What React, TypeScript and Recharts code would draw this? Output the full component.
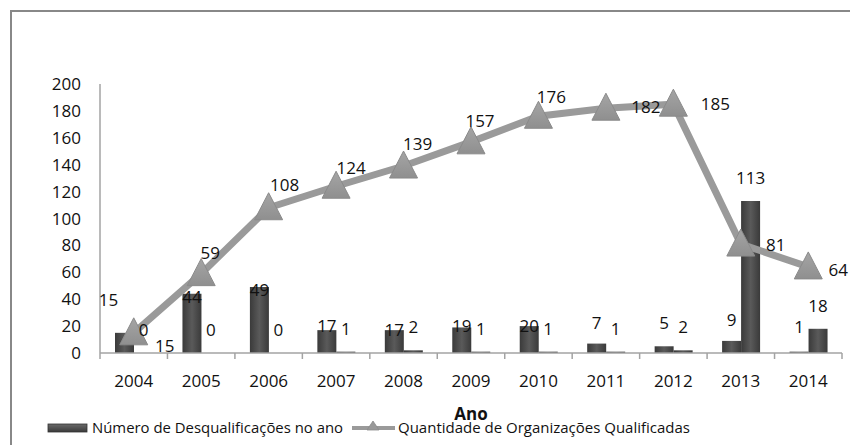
import {
  ComposedChart,
  Bar,
  Line,
  XAxis,
  YAxis,
  Legend,
  LabelList,
} from "recharts";

const anos = ["2004", "2005", "2006", "2007", "2008", "2009", "2010", "2011", "2012", "2013", "2014"];
const desqualificacoes = [15, 44, 49, 17, 17, 19, 20, 7, 5, 9, 1];
const desqualificacoesSerie2 = [0, 0, 0, 1, 2, 1, 1, 1, 2, 113, 18];
const qualificadas = [15, 59, 108, 124, 139, 157, 176, 182, 185, 81, 64];
const yTicks = [0, 20, 40, 60, 80, 100, 120, 140, 160, 180, 200];

// label nudges (Excel placed them by hand)
const barLabelNudge = [[-16, -26], [0, 0], [0, 0], [0, 0], [0, 4], [0, 0], [0, 0], [0, -3], [0, -3], [0, -6], [0, 1]];
const lineLabelOffset = [[31, 13], [9, -21], [16, -23], [15, -18], [14, -22], [9, -21], [13, -19], [40, -1], [42, 0], [35, 1], [30, 3]];

const data = anos.map((ano, i) => ({
  ano,
  desq: desqualificacoes[i],
  desq2: desqualificacoesSerie2[i],
  qual: qualificadas[i],
}));

const FONT = "'Open Sans', sans-serif";
const AXIS = "#a3a3a3";

const XTick = (props: any) => {
  const { x, y, payload, index } = props;
  const half = payload.offset ?? 0;
  const axisY = y - 6;
  return (
    <g>
      <line x1={x - half} x2={x - half} y1={axisY} y2={axisY + 6} stroke={AXIS} strokeWidth={1.5} />
      {index === anos.length - 1 && (
        <line x1={x + half} x2={x + half} y1={axisY} y2={axisY + 6} stroke={AXIS} strokeWidth={1.5} />
      )}
      <text x={x} y={axisY + 34} textAnchor="middle" fill="#111" fontSize={17} fontFamily={FONT}>
        {payload.value}
      </text>
    </g>
  );
};

const BarALabel = (p: any) => {
  const { x, y, width, height, value, index } = p;
  const bottom = y + height;
  const ty = Math.min(y + 3, bottom - 27);
  const [dx, dy] = barLabelNudge[index] || [0, 0];
  return (
    <text x={x + width / 2 + dx} y={ty + dy} dy="0.35em" textAnchor="middle" fill="#111" fontSize={17} fontFamily={FONT}>
      {value}
    </text>
  );
};

const BarBLabel = (p: any) => {
  const { x, y, width, value } = p;
  return (
    <text x={x + width / 2} y={y - 23} dy="0.35em" textAnchor="middle" fill="#111" fontSize={17} fontFamily={FONT}>
      {value}
    </text>
  );
};

const LineLabel = (p: any) => {
  const { x, y, value, index } = p;
  const [dx, dy] = lineLabelOffset[index] || [0, -20];
  return (
    <text x={x + dx} y={y + dy} dy="0.35em" textAnchor="middle" fill="#111" fontSize={17} fontFamily={FONT}>
      {value}
    </text>
  );
};

const Triangle = (p: any) => {
  const { cx, cy } = p;
  if (cx == null || cy == null) return null;
  return (
    <polygon
      points={`${cx},${cy - 15} ${cx - 14},${cy + 12} ${cx + 14},${cy + 12}`}
      fill="url(#triFill)"
      stroke="#8a8a8a"
      strokeWidth={1}
    />
  );
};

const LegendBox = () => (
  <svg width={700} height={22} style={{ display: "block", overflow: "visible" }}>
    <defs>
      <linearGradient id="legBar" x1="0" y1="0" x2="0" y2="1">
        <stop offset="0%" stopColor="#6a6a6a" />
        <stop offset="100%" stopColor="#3a3a3a" />
      </linearGradient>
    </defs>
    <rect x={0} y={7} width={39} height={8} fill="url(#legBar)" stroke="#333" strokeWidth={0.8} />
    <text x={44} y={16} fontFamily={FONT} fontSize={14.5} fill="#111" textLength={251} lengthAdjust="spacingAndGlyphs">
      Número de Desqualificações no ano
    </text>
    <line x1={304} x2={347} y1={11} y2={11} stroke="#9a9a9a" strokeWidth={4} />
    <polygon points="325,4 319,13 331,13" fill="#999" stroke="#8a8a8a" strokeWidth={0.8} />
    <text x={350} y={16} fontFamily={FONT} fontSize={14.5} fill="#111" textLength={292} lengthAdjust="spacingAndGlyphs">
      Quantidade de Organizações Qualificadas
    </text>
  </svg>
);

export default function App() {
  return (
    <div style={{ position: "fixed", left: 0, top: 0, width: 850, height: 445, overflow: "hidden", background: "#fff" }}>
      <style>{`body{margin:0;overflow:hidden}`}</style>
      <div
        style={{
          position: "absolute",
          left: 10,
          top: 10,
          width: 900,
          height: 500,
          borderTop: "2px solid #888",
          borderLeft: "2px solid #888",
        }}
      />
      <div style={{ position: "absolute", left: 0, top: 0 }}>
        <ComposedChart
          width={850}
          height={445}
          data={data}
          margin={{ top: 84, right: 8, bottom: 27, left: 12 }}
          barSize={19}
          barGap={0}
        >
          <defs>
            <linearGradient id="barFill" x1="0" y1="0" x2="1" y2="0">
              <stop offset="0%" stopColor="#3a3a3a" />
              <stop offset="50%" stopColor="#5a5a5a" />
              <stop offset="100%" stopColor="#3a3a3a" />
            </linearGradient>
            <linearGradient id="triFill" x1="0" y1="0" x2="0" y2="1">
              <stop offset="0%" stopColor="#a5a5a5" />
              <stop offset="100%" stopColor="#8f8f8f" />
            </linearGradient>
          </defs>
          <XAxis
            dataKey="ano"
            height={65}
            tickSize={6}
            tickMargin={0}
            tickLine={false}
            axisLine={{ stroke: AXIS, strokeWidth: 1.5 }}
            tick={<XTick />}
            interval={0}
            label={{
              value: "Ano",
              position: "insideBottom",
              offset: -2,
              fill: "#111",
              fontSize: 17,
              fontWeight: 700,
              fontFamily: FONT,
            }}
          />
          <YAxis
            domain={[0, 200]}
            ticks={yTicks}
            width={88}
            tickLine={false}
            tickSize={6}
            tickMargin={13}
            axisLine={{ stroke: AXIS, strokeWidth: 1.5 }}
            tick={{ fill: "#111", fontSize: 17, fontFamily: FONT }}
          />
          <Legend
            layout="horizontal"
            verticalAlign="middle"
            align="center"
            content={<LegendBox />}
            wrapperStyle={{ left: 48, top: 417, width: "auto" }}
          />
          <Bar dataKey="desq" name="Número de Desqualificações no ano" fill="url(#barFill)" isAnimationActive={false}>
            <LabelList dataKey="desq" content={<BarALabel />} />
          </Bar>
          <Bar
            dataKey="desq2"
            name="Série 2"
            fill="url(#barFill)"
            minPointSize={0.01}
            isAnimationActive={false}
            legendType="none"
          >
            <LabelList dataKey="desq2" content={<BarBLabel />} />
          </Bar>
          <Line
            dataKey="qual"
            name="Quantidade de Organizações Qualificadas"
            stroke="#9a9a9a"
            strokeWidth={7}
            dot={<Triangle />}
            activeDot={false}
            isAnimationActive={false}
          >
            <LabelList dataKey="qual" content={<LineLabel />} />
          </Line>
        </ComposedChart>
      </div>
    </div>
  );
}
